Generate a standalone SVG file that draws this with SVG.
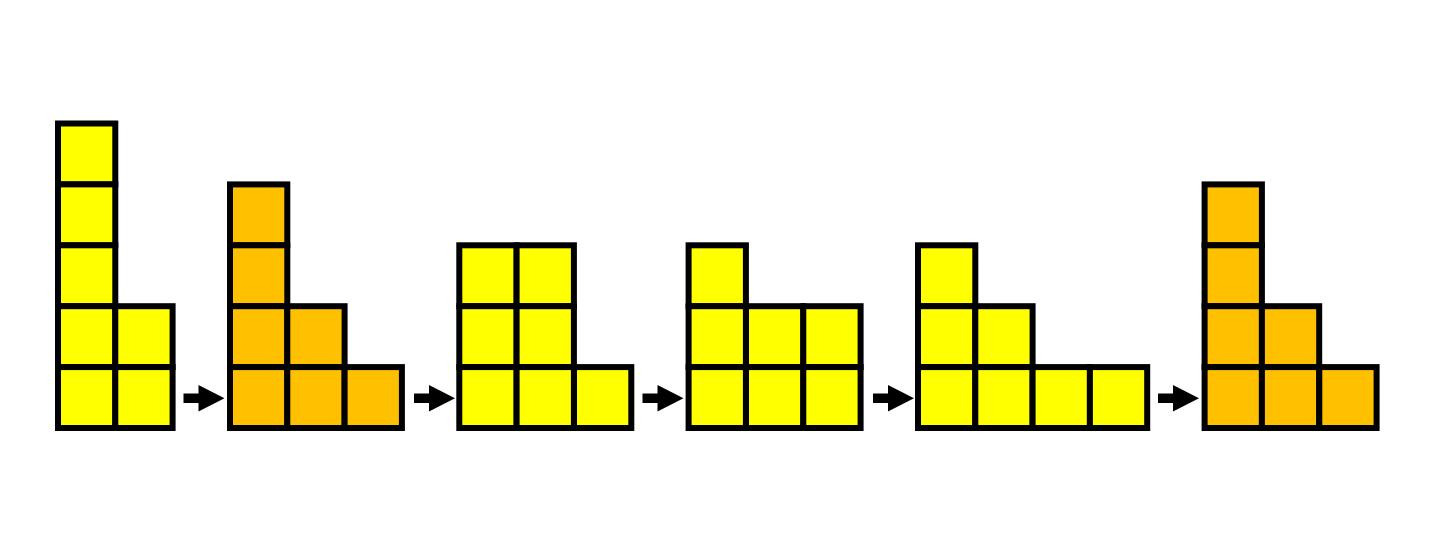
<svg xmlns="http://www.w3.org/2000/svg" xmlns:xlink="http://www.w3.org/1999/xlink" width="1438" height="553" viewBox="0 0 1438 553">
<style>
.y{fill:#FFFF00;stroke:#000;stroke-width:6}
.o{fill:#FFC000;stroke:#000;stroke-width:6}
.arr{fill:#000}
</style>
<defs>
<path id="arrow" class="arr" d="M-41,-4.7 H-26 V-13.3 L0,0 L-26,13.3 V4.7 H-41 Z"/>
</defs>
<rect width="1438" height="553" fill="#fff"/>
<g id="fig1">
<rect class="y" x="58" y="123.5" width="57.3" height="60.9"/>
<rect class="y" x="58" y="184.4" width="57.3" height="60.9"/>
<rect class="y" x="58" y="245.3" width="57.3" height="60.9"/>
<rect class="y" x="58" y="306.2" width="57.3" height="60.9"/>
<rect class="y" x="58" y="367.1" width="57.3" height="60.9"/>
<rect class="y" x="115.3" y="306.2" width="57.3" height="60.9"/>
<rect class="y" x="115.3" y="367.1" width="57.3" height="60.9"/>
</g>
<g id="fig2">
<rect class="o" x="230" y="184.4" width="57.3" height="60.9"/>
<rect class="o" x="230" y="245.3" width="57.3" height="60.9"/>
<rect class="o" x="230" y="306.2" width="57.3" height="60.9"/>
<rect class="o" x="230" y="367.1" width="57.3" height="60.9"/>
<rect class="o" x="287.3" y="306.2" width="57.3" height="60.9"/>
<rect class="o" x="287.3" y="367.1" width="57.3" height="60.9"/>
<rect class="o" x="344.6" y="367.1" width="57.3" height="60.9"/>
</g>
<g id="fig3">
<rect class="y" x="459.3" y="245.3" width="57.3" height="60.9"/>
<rect class="y" x="459.3" y="306.2" width="57.3" height="60.9"/>
<rect class="y" x="459.3" y="367.1" width="57.3" height="60.9"/>
<rect class="y" x="516.6" y="245.3" width="57.3" height="60.9"/>
<rect class="y" x="516.6" y="306.2" width="57.3" height="60.9"/>
<rect class="y" x="516.6" y="367.1" width="57.3" height="60.9"/>
<rect class="y" x="574" y="367.1" width="57.3" height="60.9"/>
</g>
<g id="fig4">
<rect class="y" x="688.6" y="245.3" width="57.3" height="60.9"/>
<rect class="y" x="688.6" y="306.2" width="57.3" height="60.9"/>
<rect class="y" x="688.6" y="367.1" width="57.3" height="60.9"/>
<rect class="y" x="746" y="306.2" width="57.3" height="60.9"/>
<rect class="y" x="746" y="367.1" width="57.3" height="60.9"/>
<rect class="y" x="803.3" y="306.2" width="57.3" height="60.9"/>
<rect class="y" x="803.3" y="367.1" width="57.3" height="60.9"/>
</g>
<g id="fig5">
<rect class="y" x="918" y="245.3" width="57.3" height="60.9"/>
<rect class="y" x="918" y="306.2" width="57.3" height="60.9"/>
<rect class="y" x="918" y="367.1" width="57.3" height="60.9"/>
<rect class="y" x="975.3" y="306.2" width="57.3" height="60.9"/>
<rect class="y" x="975.3" y="367.1" width="57.3" height="60.9"/>
<rect class="y" x="1032.6" y="367.1" width="57.3" height="60.9"/>
<rect class="y" x="1089.9" y="367.1" width="57.3" height="60.9"/>
</g>
<g id="fig6">
<rect class="o" x="1204.6" y="184.4" width="57.3" height="60.9"/>
<rect class="o" x="1204.6" y="245.3" width="57.3" height="60.9"/>
<rect class="o" x="1204.6" y="306.2" width="57.3" height="60.9"/>
<rect class="o" x="1204.6" y="367.1" width="57.3" height="60.9"/>
<rect class="o" x="1261.9" y="306.2" width="57.3" height="60.9"/>
<rect class="o" x="1261.9" y="367.1" width="57.3" height="60.9"/>
<rect class="o" x="1319.3" y="367.1" width="57.3" height="60.9"/>
</g>
<g id="connectors">
<use xlink:href="#arrow" href="#arrow" x="224.5" y="398.3"/>
<use xlink:href="#arrow" href="#arrow" x="455" y="398.3"/>
<use xlink:href="#arrow" href="#arrow" x="683.5" y="398.3"/>
<use xlink:href="#arrow" href="#arrow" x="914" y="398.3"/>
<use xlink:href="#arrow" href="#arrow" x="1199" y="398.3"/>
</g>
</svg>
